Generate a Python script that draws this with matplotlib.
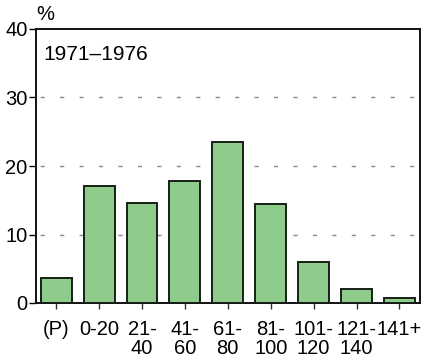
import matplotlib
matplotlib.use("Agg")
import matplotlib.pyplot as plt

categories = ["(P)", "0-20", "21-\n40", "41-\n60", "61-\n80", "81-\n100", "101-\n120", "121-\n140", "141+"]
values = [3.6, 17.1, 14.6, 17.8, 23.5, 14.5, 6.0, 2.0, 0.8]
yticks = [0, 10, 20, 30, 40]
period_label = "1971\u20131976"

plt.rcParams['font.family'] = ['Liberation Sans', 'DejaVu Sans']

fig = plt.figure(figsize=(4.26, 3.61), dpi=100)
ax = fig.add_axes([36/426, 1-303/361, (420-36)/426, (303-29)/361])

x = list(range(len(categories)))
ax.bar(x, values, width=0.72, color='#8fcb8a', edgecolor='#152015', linewidth=1.4, zorder=3)

for g in [10, 20, 30]:
    ax.axhline(g, color='#888888', linewidth=1.0, linestyle=(11, (3, 11)), zorder=1)

ax.set_xlim(-0.47, 8.48)
ax.set_ylim(0, 40)
ax.set_yticks(yticks)
ax.set_xticks(x)
ax.set_xticklabels(categories, fontsize=14.5, linespacing=0.97)
ax.tick_params(axis='y', labelsize=14.5, length=5, width=1.0, direction='out', pad=1)
ax.tick_params(axis='x', length=4.5, width=1.0, direction='out', pad=8, color='#333333')
for s in ax.spines.values():
    s.set_linewidth(1.4)
    s.set_color('#111111')

fig.text(36/426, 1-14.5/361, "%", fontsize=14.5, ha='left', va='center')
ax.text(0.018, 0.907, period_label, transform=ax.transAxes, fontsize=15, ha='left', va='center')

fig.savefig("out.png", dpi=100)
